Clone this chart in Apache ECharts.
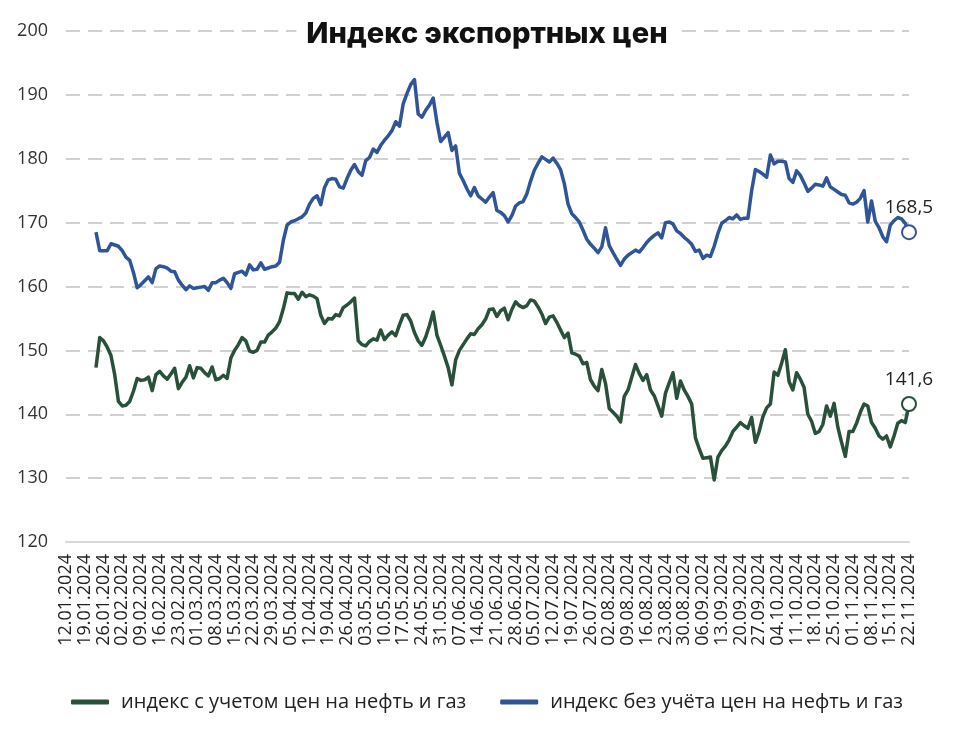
<!DOCTYPE html>
<html>
<head>
<meta charset="utf-8">
<script src="https://cdn.jsdelivr.net/npm/echarts@6/dist/echarts.min.js"></script>
<style>
html,body{margin:0;padding:0;background:#fff;}
#chart{width:974px;height:731px;}
</style>
</head>
<body>
<div id="chart"></div>
<script>
// ---- data ----
const titleText = 'Индекс экспортных цен';
const seriesNames = ['индекс с учетом цен на нефть и газ', 'индекс без учёта цен на нефть и газ'];
const firstDate = [2024, 1, 12];   // 12.01.2024
const lastDate = [2024, 11, 22];   // 22.11.2024
const yTicks = [120, 130, 140, 150, 160, 170, 180, 190, 200];

// index with oil & gas (green), business days from 24.01.2024 to 22.11.2024
const withOilGas = [
147.3,152,151.5,150.5,149.2,146.2,142,141.3,141.4,142,
143.6,145.6,145.3,145.4,145.8,143.7,146.2,146.7,146,145.5,
146.3,147.2,144,145,145.8,147.6,145.7,147.3,147.2,146.5,
146,147.4,145.4,145.6,146.1,145.6,148.8,150,150.9,152,
151.5,149.9,149.7,150,151.3,151.3,152.4,152.9,153.5,154.5,
156.5,159,158.9,158.9,158,159.1,158.4,158.7,158.5,158.1,
155.5,154.2,155,154.9,155.6,155.4,156.7,157.1,157.6,158.2,
151.5,150.9,150.7,151.4,151.8,151.6,153.2,151.7,152.4,152.9,
152.3,154,155.5,155.6,154.6,152.8,151.5,150.8,152.1,153.9,
156,152.4,150.8,149.1,147.3,144.6,148.5,150,150.9,151.8,
152.6,152.5,153.4,154,154.9,156.4,156.5,155.3,156.2,156.6,
154.8,156.4,157.6,157,156.7,157,157.9,157.7,156.8,155.7,
154.2,155.2,155.4,154.4,153.2,152,152.7,149.6,149.4,149.1,
147.9,148.1,145.4,144.4,143.7,147,144.8,140.9,140.3,139.7,
138.8,142.8,143.8,145.8,147.8,146.4,145.3,146.2,143.8,142.9,
141.3,139.7,143.3,144.9,146.5,142.5,145.2,143.8,142.8,141.6,
136.3,134.6,133.1,133.2,133.3,129.7,133.3,134.3,135,136,
137.3,138,138.7,138.2,137.8,139.5,135.6,137.3,139.6,141,
141.6,146.6,146.1,148,150.1,145.1,143.8,146.5,145.5,144.2,
140,138.9,137,137.3,138.4,141.3,139.7,141.7,138,135.6,
133.4,137.3,137.3,138.6,140.3,141.6,141.3,138.7,137.8,136.6,
136.1,136.6,134.9,136.6,138.6,139,138.7,141.6
];

// index without oil & gas (blue)
const withoutOilGas = [
168.5,165.6,165.6,165.6,166.7,166.5,166.3,165.6,164.6,164.1,
162.2,159.8,160.3,160.9,161.5,160.6,162.8,163.2,163.1,162.9,
162.4,162.3,161,160.2,159.5,160.1,159.7,159.8,159.9,160,
159.4,160.6,160.6,161,161.3,160.6,159.7,162,162.2,162.4,
161.8,163.4,162.6,162.7,163.7,162.7,162.9,163.1,163.2,163.8,
167.2,169.6,170.1,170.3,170.6,170.9,171.5,172.9,173.8,174.2,
172.8,175.5,176.7,176.9,176.8,175.6,175.4,176.9,178.2,179.1,
178,177.4,179.7,180.2,181.5,181,182.1,182.9,183.6,184.4,
185.8,185.1,188.6,190.2,191.6,192.4,187,186.5,187.6,188.4,
189.5,185.7,182.7,183.4,184.1,181.3,182,177.7,176.6,175.3,
174.2,175.5,174.2,173.7,173.2,174,174.7,171.9,171.6,171.1,
170.1,171.1,172.6,173.1,173.3,174.5,176.5,178.2,179.3,180.3,
179.9,179.5,180.1,179.3,178.3,176.1,172.9,171.4,170.8,170.1,
168.8,167.4,166.6,166,165.3,166.2,169.2,166.4,165.3,164.3,
163.3,164.3,164.9,165.3,165.7,165.4,166.1,166.9,167.5,168,
168.4,167.6,170,170.1,169.8,168.7,168.3,167.7,167.2,166.6,
165.5,165.7,164.4,164.9,164.7,166.3,168.3,169.9,170.3,170.8,
170.6,171.2,170.5,170.7,170.7,175,178.3,178,177.6,177.1,
180.6,179.2,179.6,179.6,179.5,176.9,176.3,178.1,177.4,176.2,
174.9,175.4,176,175.9,175.7,177,175.6,175.2,174.8,174.4,
174.3,173.1,172.9,173.2,173.8,175,170.1,173.4,170.2,169.2,
167.8,167,169.6,170.3,170.8,170.6,169.9,168.5
];

// ---- categories: business days ----
function pad(n){ return (n < 10 ? '0' : '') + n; }
const categories = [];
(function(){
  const d = new Date(firstDate[0], firstDate[1]-1, firstDate[2]);
  const e = new Date(lastDate[0], lastDate[1]-1, lastDate[2]);
  while (d <= e) {
    const wd = d.getDay();
    if (wd !== 0 && wd !== 6) categories.push(pad(d.getDate()) + '.' + pad(d.getMonth()+1) + '.' + d.getFullYear());
    d.setDate(d.getDate() + 1);
  }
})();

function alignToEnd(vals){
  const out = new Array(categories.length - vals.length).fill(null);
  return out.concat(vals);
}

const GREEN = '#28503a';
const BLUE = '#2f5597';
const FONT = 'Open Sans';

function endPoint(vals, color){
  const v = vals[vals.length - 1];
  return {
    symbol: 'circle',
    symbolSize: 14,
    silent: true,
    itemStyle: { color: '#ffffff', borderColor: color, borderWidth: 2 },
    label: {
      show: true, position: 'top', distance: 7,
      color: '#222', fontFamily: FONT, fontSize: 19,
      formatter: String(v).replace('.', ',')
    },
    data: [{ coord: [categories[categories.length - 1], v], value: v }]
  };
}

const chart = echarts.init(document.getElementById('chart'), null, { renderer: 'canvas' });
chart.setOption({
  animation: false,
  backgroundColor: '#ffffff',
  title: {
    text: titleText,
    left: 'center',
    top: 16,
    padding: [4, 10],
    backgroundColor: '#ffffff',
    textStyle: { fontFamily: 'Inter', fontWeight: 800, fontSize: 29, color: '#111' }
  },
  legend: {
    bottom: 14,
    left: 'center',
    itemWidth: 38,
    itemHeight: 5,
    itemGap: 34,
    icon: 'roundRect',
    textStyle: { fontFamily: FONT, fontSize: 20, color: '#222', padding: [0, 0, 0, 7] },
    data: seriesNames
  },
  grid: { left: 66, right: 65, top: 31, bottom: 189, containLabel: false },
  xAxis: {
    type: 'category',
    data: categories,
    boundaryGap: false,
    axisLine: { show: true, lineStyle: { color: '#d9d9d9', width: 2 } },
    axisTick: { show: false },
    axisLabel: {
      interval: 4, rotate: 90, margin: 12,
      fontFamily: FONT, fontSize: 18, color: '#222'
    },
    splitLine: { show: false }
  },
  yAxis: {
    type: 'value',
    min: yTicks[0], max: yTicks[yTicks.length - 1], interval: 10,
    axisLine: { show: false },
    axisTick: { show: false },
    axisLabel: { margin: 18, fontFamily: FONT, fontSize: 18, color: '#333' },
    splitLine: { show: true, lineStyle: { color: '#d0d0d0', width: 2, type: [14, 8] } }
  },
  series: [
    {
      name: seriesNames[0], type: 'line', data: alignToEnd(withOilGas),
      symbol: 'none', color: GREEN,
      lineStyle: { width: 3.5, color: GREEN, join: 'round' },
      markPoint: endPoint(withOilGas, GREEN), z: 3
    },
    {
      name: seriesNames[1], type: 'line', data: alignToEnd(withoutOilGas),
      symbol: 'none', color: BLUE,
      lineStyle: { width: 3.5, color: BLUE, join: 'round' },
      markPoint: endPoint(withoutOilGas, BLUE), z: 3
    }
  ]
});
</script>
</body>
</html>
